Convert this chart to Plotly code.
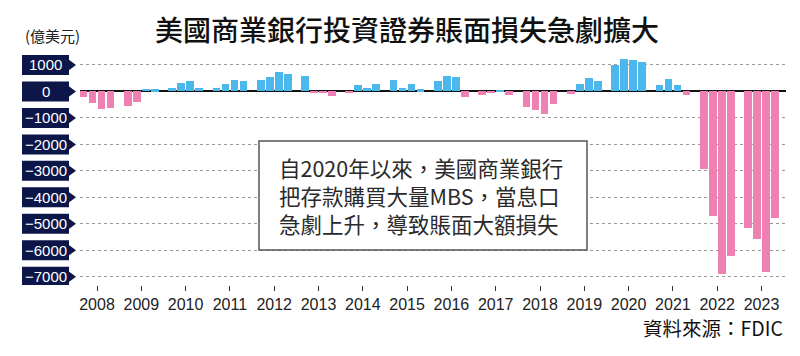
import plotly.graph_objects as go

# ---- data (億美元), quarterly Q1..Q4 per year ----
years = [2008, 2009, 2010, 2011, 2012, 2013, 2014, 2015,
         2016, 2017, 2018, 2019, 2020, 2021, 2022, 2023]
q_values = [
    [-200, -450, -650, -620],      # 2008
    [-545, -395, 90, 75],          # 2009
    [140, 330, 405, 140],          # 2010
    [140, 265, 430, 395],          # 2011
    [450, 545, 735, 650],          # 2012
    [570, -60, -60, -180],         # 2013
    [-50, 230, 140, 265],          # 2014
    [445, 130, 280, 75],           # 2015
    [395, 585, 546, -215],         # 2016
    [-150, -75, 40, -125],         # 2017
    [-600, -690, -850, -470],      # 2018
    [-90, 290, 495, 405],          # 2019
    [1000, 1220, 1180, 1130],      # 2020
    [230, 480, 240, -140],         # 2021
    [-2943, -4699, -6899, -6204],  # 2022
    [-5155, -5584, -6839, -4776],  # 2023
]
y_ticks = [1000, 0, -1000, -2000, -3000, -4000, -5000, -6000, -7000]
y_tick_text = ["1000", "0", "\u22121000", "\u22122000", "\u22123000",
               "\u22124000", "\u22125000", "\u22126000", "\u22127000"]
title_text = "美國商業銀行投資證券賬面損失急劇擴大"
unit_text = "(億美元)"
note_lines = ["自2020年以來，美國商業銀行", "把存款購買大量MBS，當息口", "急劇上升，導致賬面大額損失"]
source_text = "資料來源：FDIC"

BLUE = "#4BB7EA"
PINK = "#EE80B3"
NAVY = "#0C1649"

# ---- layout geometry ----
W, H = 800, 356
L, R, T, B = 80, 14, 52, 71
PW, PH = W - L - R, H - T - B
Q_PITCH = 0.203
BAR_W = 0.174

xs, vals, cols = [], [], []
for yr, qs in zip(years, q_values):
    for qi, v in enumerate(qs):
        xs.append(yr + (qi - 1.5) * Q_PITCH)
        vals.append(v)
        cols.append(BLUE if v >= 0 else PINK)

def px(xp):
    return (xp - L) / PW

def py(yp):
    return (H - B - yp) / PH

fig = go.Figure()
fig.add_trace(go.Bar(x=xs, y=vals, width=BAR_W, marker=dict(color=cols, line=dict(width=0)),
                     hoverinfo="x+y"))

shapes = []
annotations = []
# y-axis label boxes with arrow
for v, t in zip(y_ticks, y_tick_text):
    shapes.append(dict(type="rect", xref="paper", yref="y",
                       xsizemode="pixel", xanchor=0, ysizemode="pixel", yanchor=v,
                       x0=-58, x1=-11, y0=-10, y1=10, fillcolor=NAVY, line=dict(width=0)))
    shapes.append(dict(type="path", xref="paper", yref="y", xsizemode="pixel", xanchor=0,
                       ysizemode="pixel", yanchor=v,
                       path="M -11.5 -5.5 L -4 0 L -11.5 5.5 Z",
                       fillcolor=NAVY, line=dict(width=0)))
    annotations.append(dict(xref="paper", yref="y", x=0, y=v, xshift=-34.5, yshift=0,
                            text=t, showarrow=False, xanchor="center", yanchor="middle",
                            font=dict(family="Liberation Sans, Arial", size=15, color="white")))

# note box
shapes.append(dict(type="rect", xref="paper", yref="paper",
                   x0=px(259), x1=px(587), y0=py(250), y1=py(141),
                   fillcolor="white", line=dict(color="#555555", width=1.5), layer="above"))
annotations.append(dict(xref="paper", yref="paper", x=px(277), y=py(195),
                        text="<br>".join(note_lines), showarrow=False, align="left",
                        xanchor="left", yanchor="middle",
                        font=dict(family="Noto Sans CJK TC", size=21.5, color="#2a2a2a")))
# title
annotations.append(dict(xref="paper", yref="paper", x=px(407), y=py(29),
                        text=title_text, showarrow=False, xanchor="center", yanchor="middle",
                        font=dict(family="Noto Sans CJK TC", size=28, color="#111111",
                                  weight=500)))
# unit
annotations.append(dict(xref="paper", yref="paper", x=px(52), y=py(36),
                        text=unit_text, showarrow=False, xanchor="center", yanchor="middle",
                        font=dict(family="Noto Sans CJK TC", size=15, color="#222222")))
# source
annotations.append(dict(xref="paper", yref="paper", x=px(785), y=py(327),
                        text=source_text, showarrow=False, xanchor="right", yanchor="middle",
                        font=dict(family="Noto Sans CJK TC", size=19.5, color="#111111")))

fig.update_layout(
    width=W, height=H,
    margin=dict(l=L, r=R, t=T, b=B, pad=0),
    paper_bgcolor="white", plot_bgcolor="white",
    showlegend=False, bargap=0,
    shapes=shapes, annotations=annotations,
    xaxis=dict(range=[2007.616, 2023.553], tickmode="array", tickvals=years,
               ticktext=[str(y) for y in years], ticks="outside", ticklen=5,
               tickcolor="#333333", tickwidth=1, showgrid=False, zeroline=False,
               showline=False,
               tickfont=dict(family="Liberation Sans Narrow, Arial Narrow, Liberation Sans",
                             size=16, color="#222222")),
    yaxis=dict(range=[-7314, 1491], tickmode="array", tickvals=y_ticks,
               showticklabels=False, ticks="", showgrid=True, gridcolor="#999999",
               griddash="dot", gridwidth=1, zeroline=True, zerolinecolor="#111111",
               zerolinewidth=2, showline=False),
)

fig.write_html("out.html", config={"displayModeBar": False},
               post_script="document.body.style.margin='0';document.body.style.overflow='hidden';")
